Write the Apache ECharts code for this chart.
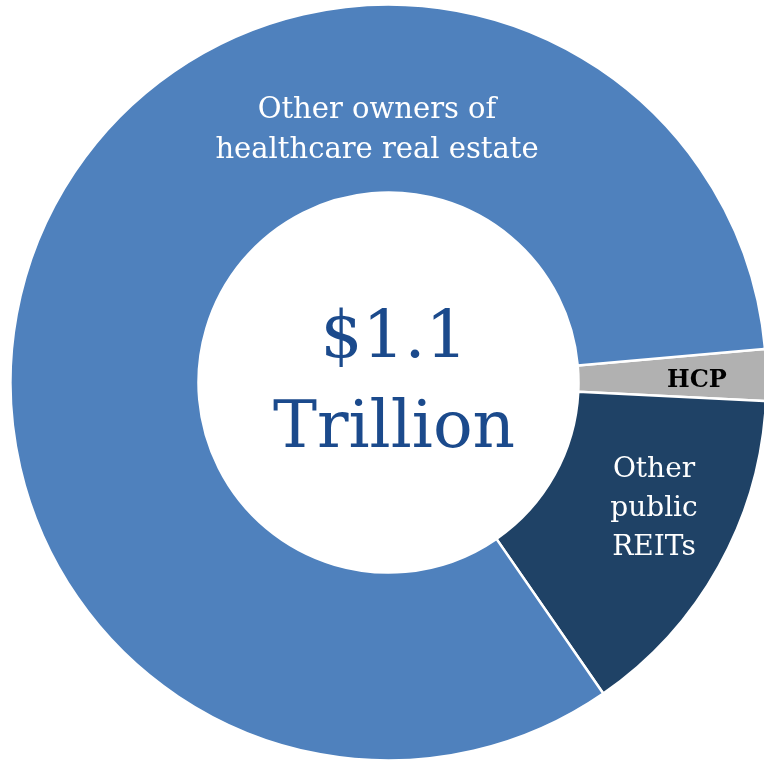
<!DOCTYPE html>
<html><head><meta charset="utf-8">
<script src="https://cdn.jsdelivr.net/npm/echarts@6/dist/echarts.min.js"></script>
<style>html,body{margin:0;padding:0;background:#fff}#c{width:764px;height:762px}</style>
</head><body><div id="c"></div>
<script>
const categories = ['HCP', 'Other public REITs', 'Other owners of healthcare real estate'];
const values = [2.2, 14.6, 83.2];
const colors = ['#B1B1B1', '#1F4266', '#4F81BD'];
const centerLines = ['$1.1', 'Trillion'];

const chart = echarts.init(document.getElementById('c'), null, {renderer: 'canvas'});
const FONT = '"DejaVu Serif", serif';
chart.setOption({
  animation: false,
  series: [{
    type: 'pie',
    center: [388.5, 382.5],
    radius: [190, 378],
    startAngle: 5.1,
    clockwise: true,
    label: {show: false},
    labelLine: {show: false},
    itemStyle: {borderColor: '#fff', borderWidth: 2.5},
    emphasis: {disabled: true},
    data: categories.map((n, i) => ({name: n, value: values[i], itemStyle: {color: colors[i]}}))
  }],
  graphic: [
    {type: 'text', z: 100, x: 377, y: 130, style: {text: 'Other owners of\nhealthcare real estate', fill: '#fff', font: '29px ' + FONT, align: 'center', verticalAlign: 'middle', lineHeight: 40}},
    {type: 'text', z: 100, x: 394, y: 385, style: {text: centerLines.join('\n'), fill: '#1B4A8C', font: '66px ' + FONT, align: 'center', verticalAlign: 'middle', lineHeight: 90}},
    {type: 'text', z: 100, x: 697, y: 381, style: {text: 'HCP', fill: '#000', font: 'bold 24px ' + FONT, align: 'center', verticalAlign: 'middle'}},
    {type: 'text', z: 100, x: 654, y: 509, style: {text: 'Other\npublic\nREITs', fill: '#fff', font: '28px ' + FONT, align: 'center', verticalAlign: 'middle', lineHeight: 39}}
  ]
});
</script></body></html>
